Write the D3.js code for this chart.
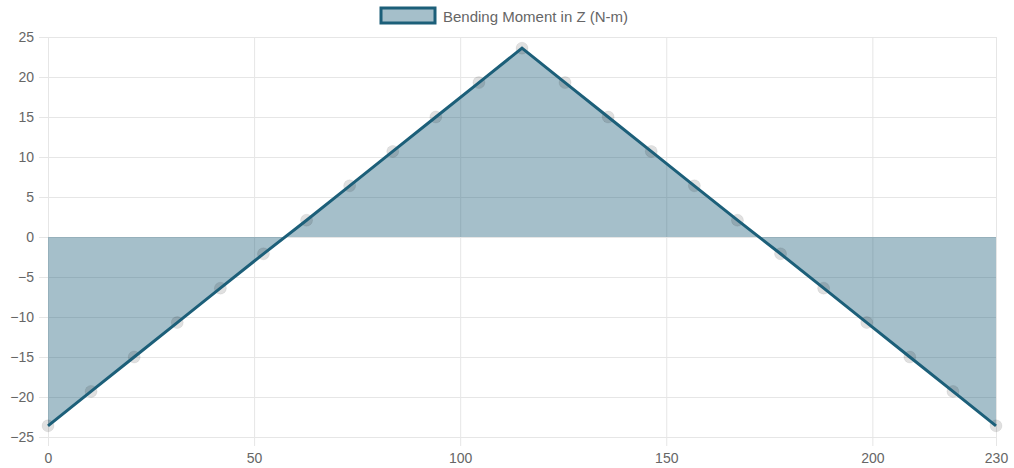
<!DOCTYPE html>
<html>
<head>
<meta charset="utf-8">
<script src="https://cdn.jsdelivr.net/npm/d3@7"></script>
<style>
  html, body { margin: 0; padding: 0; background: #fff; }
  svg { display: block; font-family: "Liberation Sans", Arial, Helvetica, sans-serif; }
</style>
</head>
<body>
<svg id="chart" width="1014" height="468"></svg>
<script>
// Positions along the beam (mm) where the moment is sampled
const positions = [0, 10.45, 20.91, 31.36, 41.82, 52.27, 62.73, 73.18, 83.64, 94.09, 104.55, 115,
                   125.45, 135.91, 146.36, 156.82, 167.27, 177.73, 188.18, 198.64, 209.09, 219.55, 230];
// Bending moment about Z (N-m)
const moments = [-23.6, -19.3, -15.0, -10.7, -6.4, -2.1, 2.1, 6.4, 10.7, 15.0, 19.3, 23.6,
                 19.3, 15.0, 10.7, 6.4, 2.1, -2.1, -6.4, -10.7, -15.0, -19.3, -23.6];
const xTicks = [0, 50, 100, 150, 200, 230];
const yTicks = [25, 20, 15, 10, 5, 0, -5, -10, -15, -20, -25];
const seriesLabel = "Bending Moment in Z (N-m)";

const lineColor = "#1c5f79";
const fillColor = "rgba(31, 95, 122, 0.4)";
const gridColor = "#e6e6e6";
const textColor = "#666";

const svg = d3.select("#chart");
const plot = { left: 48, right: 996, top: 37, bottom: 437 };

const x = d3.scaleLinear().domain([0, 230]).range([plot.left, plot.right]);
const y = d3.scaleLinear().domain([-25, 25]).range([plot.bottom, plot.top]);

// Horizontal grid lines with short tick marks on the left
const yAxis = d3.axisLeft(y).tickValues(yTicks).tickSize(plot.right - plot.left + 9).tickPadding(5);
const gy = svg.append("g").attr("transform", `translate(${plot.right},0)`).call(yAxis);
gy.select(".domain").remove();
gy.selectAll("line").attr("stroke", gridColor).attr("stroke-width", 1);
gy.selectAll("text").attr("fill", textColor).attr("font-size", 14);

// Vertical grid lines with tick marks below the plot
const xAxis = d3.axisBottom(x).tickValues(xTicks).tickSize(plot.bottom - plot.top + 9).tickPadding(7)
  .tickFormat(d3.format("d"));
const gx = svg.append("g").attr("transform", `translate(0,${plot.top})`).call(xAxis);
gx.select(".domain").remove();
gx.selectAll("line").attr("stroke", gridColor).attr("stroke-width", 1);
gx.selectAll("text").attr("fill", textColor).attr("font-size", 14);

const data = positions.map((p, i) => ({ p, m: moments[i] }));

// Area between the curve and zero
const area = d3.area().x(d => x(d.p)).y0(y(0)).y1(d => y(d.m));
svg.append("path").datum(data).attr("d", area).attr("fill", fillColor);

// Sample point markers
svg.append("g").selectAll("circle").data(data).join("circle")
  .attr("cx", d => x(d.p)).attr("cy", d => y(d.m)).attr("r", 6)
  .attr("fill", "rgba(0,0,0,0.12)")
  .attr("stroke", "rgba(0,0,0,0.06)").attr("stroke-width", 1);

// Moment line
const line = d3.line().x(d => x(d.p)).y(d => y(d.m));
svg.append("path").datum(data).attr("d", line)
  .attr("fill", "none").attr("stroke", lineColor).attr("stroke-width", 3)
  .attr("stroke-linejoin", "miter");

// Legend
const legend = svg.append("g").attr("transform", "translate(381,8)");
legend.append("rect").attr("x", 0).attr("y", 0).attr("width", 54).attr("height", 15)
  .attr("fill", fillColor).attr("stroke", lineColor).attr("stroke-width", 3);
legend.append("text").attr("x", 62).attr("y", 13.5).attr("fill", textColor)
  .attr("font-size", 15).text(seriesLabel);
</script>
</body>
</html>
